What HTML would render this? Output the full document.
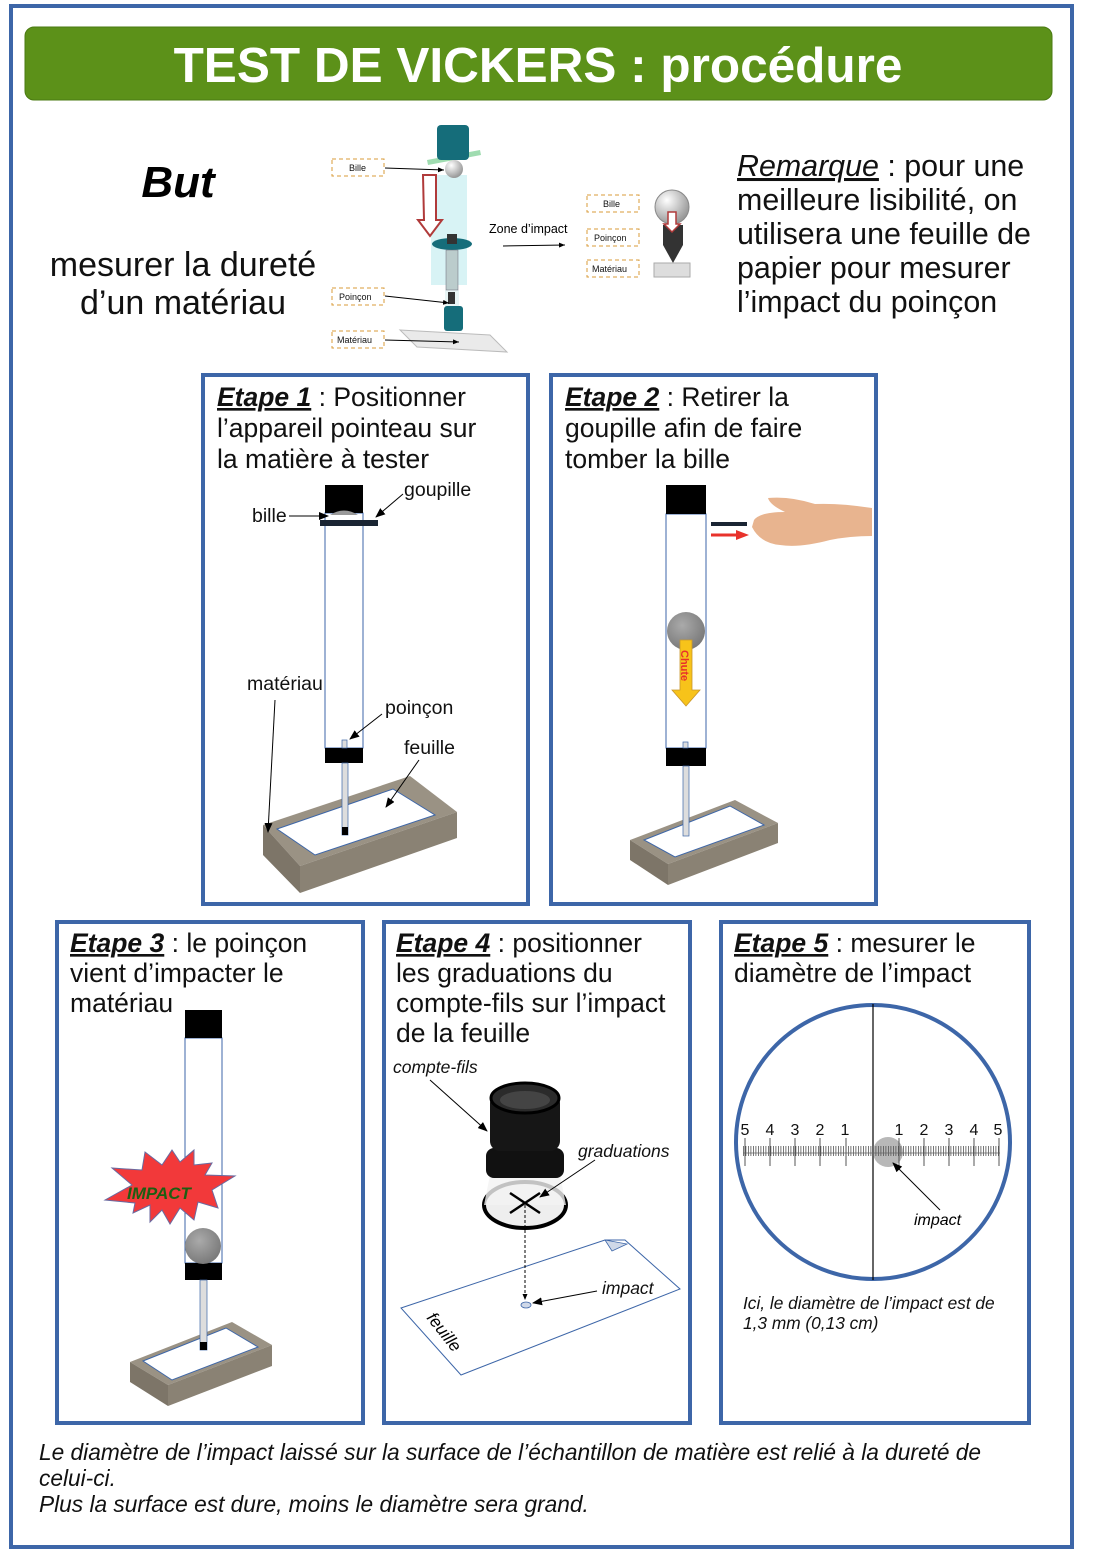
<!DOCTYPE html>
<html><head><meta charset="utf-8">
<style>
html,body{margin:0;padding:0;background:#fff;}
svg{display:block;font-family:"Liberation Sans",sans-serif;}
</style></head>
<body>
<svg width="1096" height="1560" viewBox="0 0 1096 1560" xmlns="http://www.w3.org/2000/svg">
<defs>
<marker id="ah" markerWidth="10" markerHeight="8" refX="9" refY="4" orient="auto" markerUnits="userSpaceOnUse"><path d="M0,0 L10,4 L0,8 z" fill="#000"/></marker>
<marker id="ahs" markerWidth="6" markerHeight="5" refX="6" refY="2.5" orient="auto" markerUnits="userSpaceOnUse"><path d="M0,0 L6,2.5 L0,5 z" fill="#000"/></marker>
<pattern id="tk" width="2.5" height="20" patternUnits="userSpaceOnUse" x="743"><rect x="0" y="6" width="0.8" height="10" fill="#555"/></pattern>
<radialGradient id="bg" cx="0.4" cy="0.35" r="0.7"><stop offset="0" stop-color="#aaa"/><stop offset="1" stop-color="#777"/></radialGradient>
<radialGradient id="wb" cx="0.35" cy="0.3" r="0.7"><stop offset="0" stop-color="#fff"/><stop offset="1" stop-color="#999"/></radialGradient>
</defs>

<rect x="11" y="6" width="1061" height="1541" fill="none" stroke="#3d66a8" stroke-width="4"/>
<rect x="25" y="27" width="1027" height="73" rx="9" fill="#5c9119" stroke="#4a7a12" stroke-width="1"/>
<text x="538" y="82" text-anchor="middle" font-size="49.5" font-weight="bold" fill="#fff">TEST DE VICKERS : procédure</text>

<text x="178" y="197" text-anchor="middle" font-size="44" font-weight="bold" font-style="italic">But</text>
<text x="183" y="276" text-anchor="middle" font-size="34" fill="#111">mesurer la dureté</text>
<text x="183" y="314" text-anchor="middle" font-size="34" fill="#111">d’un matériau</text>

<g font-size="30.4" fill="#111">
<text x="737" y="176"><tspan font-style="italic" text-decoration="underline">Remarque</tspan> : pour une</text>
<text x="737" y="210">meilleure lisibilité, on</text>
<text x="737" y="244">utilisera une feuille de</text>
<text x="737" y="278">papier pour mesurer</text>
<text x="737" y="312">l’impact du poinçon</text>
</g>

<g>
<rect x="431" y="175" width="36" height="110" fill="#d8f3f5"/>
<rect x="445" y="290" width="14" height="28" fill="#e8f5f5"/>
<path d="M427,160 L480,150 L481,155 L428,165z" fill="#9fdcb0"/>
<rect x="437" y="125" width="32" height="35" rx="4" fill="#156d7a"/>
<circle cx="454" cy="169" r="9" fill="url(#wb)"/>
<path d="M423,175 h13 v45 h6 l-12,16 l-12,-16 h6z" fill="#fff" stroke="#b03a3a" stroke-width="2"/>
<ellipse cx="452" cy="244" rx="20" ry="6" fill="#156d7a"/>
<rect x="447" y="234" width="10" height="10" fill="#333"/>
<rect x="446" y="250" width="12" height="40" fill="#bcc" stroke="#667" stroke-width="0.5"/>
<rect x="448" y="292" width="7" height="12" fill="#333"/>
<rect x="444" y="306" width="19" height="25" rx="3" fill="#156d7a"/>
<path d="M400,330 L490,335 L507,352 L417,347z" fill="#eaeaea" stroke="#bbb"/>
<g font-size="9" fill="#111">
<rect x="332" y="159" width="52" height="17" fill="none" stroke="#d89b3a" stroke-dasharray="4,3"/><text x="349" y="171">Bille</text>
<rect x="332" y="288" width="52" height="17" fill="none" stroke="#d89b3a" stroke-dasharray="4,3"/><text x="339" y="300">Poinçon</text>
<rect x="332" y="331" width="52" height="17" fill="none" stroke="#d89b3a" stroke-dasharray="4,3"/><text x="337" y="343">Matériau</text>
<rect x="587" y="195" width="52" height="17" fill="none" stroke="#d89b3a" stroke-dasharray="4,3"/><text x="603" y="207">Bille</text>
<rect x="587" y="229" width="52" height="17" fill="none" stroke="#d89b3a" stroke-dasharray="4,3"/><text x="594" y="241">Poinçon</text>
<rect x="587" y="260" width="52" height="17" fill="none" stroke="#d89b3a" stroke-dasharray="4,3"/><text x="592" y="272">Matériau</text>
</g>
<line x1="385" y1="168" x2="444" y2="170" stroke="#000" marker-end="url(#ahs)"/>
<line x1="385" y1="296" x2="449" y2="303" stroke="#000" marker-end="url(#ahs)"/>
<line x1="385" y1="340" x2="459" y2="342" stroke="#000" marker-end="url(#ahs)"/>
<text x="489" y="233" font-size="12.5">Zone d’impact</text>
<line x1="503" y1="246" x2="565" y2="245" stroke="#000" marker-end="url(#ahs)"/>
<circle cx="672" cy="207" r="17" fill="url(#wb)" stroke="#888"/>
<path d="M663,225 h20 v20 l-10,18 l-10,-18z" fill="#333"/>
<path d="M668,212 h8 v12 h4 l-8,8 l-8,-8 h4z" fill="#fff" stroke="#b03a3a" stroke-width="1.5"/>
<rect x="654" y="263" width="36" height="14" fill="#ddd" stroke="#aaa"/>
</g>

<g fill="none" stroke="#3d66a8" stroke-width="4">
<rect x="203" y="375" width="325" height="529"/>
<rect x="551" y="375" width="325" height="529"/>
<rect x="57" y="922" width="306" height="501"/>
<rect x="384" y="922" width="306" height="501"/>
<rect x="721" y="922" width="308" height="501"/>
</g>

<g font-size="26.5" fill="#111">
<text x="217" y="406"><tspan font-weight="bold" font-style="italic" text-decoration="underline">Etape 1</tspan> : Positionner</text>
<text x="217" y="437">l’appareil pointeau sur</text>
<text x="217" y="468">la matière à tester</text>
<text x="565" y="406"><tspan font-weight="bold" font-style="italic" text-decoration="underline">Etape 2</tspan> : Retirer la</text>
<text x="565" y="437">goupille afin de faire</text>
<text x="565" y="468">tomber la bille</text>
<text x="70" y="952"><tspan font-weight="bold" font-style="italic" text-decoration="underline">Etape 3</tspan> : le poinçon</text>
<text x="70" y="982">vient d’impacter le</text>
<text x="70" y="1012">matériau</text>
<text x="396" y="952"><tspan font-weight="bold" font-style="italic" text-decoration="underline">Etape 4</tspan> : positionner</text>
<text x="396" y="982">les graduations du</text>
<text x="396" y="1012">compte-fils sur l’impact</text>
<text x="396" y="1042">de la feuille</text>
<text x="734" y="952"><tspan font-weight="bold" font-style="italic" text-decoration="underline">Etape 5</tspan> : mesurer le</text>
<text x="734" y="982">diamètre de l’impact</text>
</g>

<g>
<path d="M263,825 L410,776 L457,812 L300,866z" fill="#9a9284"/>
<path d="M263,825 L300,866 L300,893 L263,855z" fill="#7d7568"/>
<path d="M300,866 L457,812 L457,838 L300,893z" fill="#8a8274"/>
<path d="M277,829 L393,789 L435,815 L315,855z" fill="#fff" stroke="#3d66a8" stroke-width="1"/>
<rect x="325" y="513" width="38" height="235" fill="#fff" stroke="#3d66a8" stroke-width="1"/>
<rect x="325" y="485" width="38" height="28" fill="#000"/>
<path d="M330,515 Q344,506 358,515z" fill="#999"/>
<rect x="320" y="520" width="58" height="6" fill="#1a2533"/>
<rect x="325" y="748" width="38" height="15" fill="#000"/>
<rect x="342" y="740" width="5" height="8" fill="#ddd" stroke="#3d66a8" stroke-width="0.7"/>
<rect x="342" y="763" width="6" height="72" fill="#ddd" stroke="#3d66a8" stroke-width="0.7"/>
<rect x="342" y="827" width="6" height="8" fill="#000"/>
<g font-size="19.5" fill="#111">
<text x="252" y="522">bille</text>
<text x="404" y="496">goupille</text>
<text x="247" y="690">matériau</text>
<text x="385" y="714">poinçon</text>
<text x="404" y="754">feuille</text>
</g>
<line x1="289" y1="516" x2="328" y2="516" stroke="#000" marker-end="url(#ah)"/>
<line x1="403" y1="494" x2="376" y2="517" stroke="#000" marker-end="url(#ah)"/>
<line x1="275" y1="700" x2="268" y2="832" stroke="#000" marker-end="url(#ah)"/>
<line x1="382" y1="714" x2="350" y2="739" stroke="#000" marker-end="url(#ah)"/>
<line x1="419" y1="760" x2="386" y2="807" stroke="#000" marker-end="url(#ah)"/>
</g>

<g>
<path d="M630,840 L735,800 L778,823 L668,864z" fill="#9a9284"/>
<path d="M630,840 L668,864 L668,885 L630,860z" fill="#7d7568"/>
<path d="M668,864 L778,823 L778,843 L668,885z" fill="#8a8274"/>
<path d="M644,840 L730,806 L764,825 L675,857z" fill="#fff" stroke="#3d66a8" stroke-width="1"/>
<rect x="666" y="514" width="40" height="234" fill="#fff" stroke="#3d66a8" stroke-width="1"/>
<rect x="666" y="485" width="40" height="29" fill="#000"/>
<rect x="666" y="748" width="40" height="18" fill="#000"/>
<rect x="683" y="742" width="5" height="6" fill="#ddd" stroke="#3d66a8" stroke-width="0.7"/>
<rect x="683" y="766" width="6" height="70" fill="#ddd" stroke="#3d66a8" stroke-width="0.7"/>
<circle cx="686" cy="631" r="19" fill="url(#bg)"/>
<path d="M680,640 h12 v50 h8 l-14,16 l-14,-16 h8z" fill="#f7c31a" stroke="#c9962a" stroke-width="0.8"/>
<text x="0" y="0" font-size="11" font-weight="bold" fill="#e8322b" transform="translate(681,650) rotate(90)">Chute</text>
<rect x="711" y="522" width="36" height="4" fill="#1a2533"/>
<path d="M711,535 h28" stroke="#e8322b" stroke-width="3"/>
<path d="M736,530 L749,535 L736,540z" fill="#e8322b"/>
<path d="M754,520 Q760,512 785,512 Q770,505 768,498 Q790,496 815,504 Q840,503 872,508 L872,536 Q850,536 830,540 Q800,548 780,545 Q760,543 752,527z" fill="#e8b48f"/>
</g>

<g>
<path d="M130,1362 L232,1322 L272,1345 L168,1385z" fill="#9a9284"/>
<path d="M130,1362 L168,1385 L168,1406 L130,1382z" fill="#7d7568"/>
<path d="M168,1385 L272,1345 L272,1366 L168,1406z" fill="#8a8274"/>
<path d="M143,1361 L226,1328 L258,1347 L172,1380z" fill="#fff" stroke="#3d66a8" stroke-width="1"/>
<rect x="185" y="1038" width="37" height="225" fill="#fff" stroke="#3d66a8" stroke-width="1"/>
<rect x="185" y="1010" width="37" height="28" fill="#000"/>
<rect x="185" y="1263" width="37" height="17" fill="#000"/>
<rect x="200" y="1280" width="7" height="70" fill="#ddd" stroke="#3d66a8" stroke-width="0.7"/>
<rect x="200" y="1342" width="7" height="8" fill="#000"/>
<circle cx="203" cy="1246" r="18" fill="url(#bg)"/>
<path d="M105,1200 L132,1185 L112,1168 L142,1170 L145,1152 L162,1165 L172,1150 L180,1162 L194,1150 L194,1165 L212,1163 L205,1175 L235,1176 L212,1190 L218,1208 L198,1202 L194,1220 L180,1208 L170,1224 L162,1210 L150,1222 L150,1205 L133,1213 L135,1203z" fill="#f2393a" stroke="#6a6aa0" stroke-width="1"/>
<text x="127" y="1199" font-size="17" font-weight="bold" font-style="italic" fill="#1d5e12">IMPACT</text>
</g>

<g>
<path d="M401,1308 L605,1240 L625,1240 L680,1289 L461,1375z" fill="#fff" stroke="#3d66a8" stroke-width="1"/>
<path d="M605,1240 L612,1251 L627,1244z" fill="#cfd8e8" stroke="#3d66a8" stroke-width="0.8"/>
<text x="0" y="0" font-size="17" font-style="italic" transform="translate(426,1318) rotate(52)">feuille</text>
<ellipse cx="526" cy="1305" rx="5" ry="3" fill="#cfd8e8" stroke="#3d66a8" stroke-width="0.8"/>
<ellipse cx="525" cy="1205" rx="41" ry="23" fill="#eee" stroke="#000" stroke-width="4"/>
<path d="M490,1175 L560,1175 L566,1205 L484,1205z" fill="#f2f2f2" opacity="0.8"/>
<rect x="486" y="1148" width="78" height="30" rx="8" fill="#111"/>
<rect x="490" y="1093" width="70" height="58" rx="10" fill="#161616"/>
<ellipse cx="525" cy="1098" rx="34" ry="15" fill="#2b2b2b" stroke="#000" stroke-width="3"/>
<ellipse cx="525" cy="1100" rx="25" ry="9" fill="#444"/>
<line x1="510" y1="1193" x2="540" y2="1213" stroke="#000" stroke-width="2.5"/>
<line x1="540" y1="1193" x2="510" y2="1213" stroke="#000" stroke-width="2.5"/>
<line x1="525" y1="1205" x2="525" y2="1300" stroke="#000" stroke-dasharray="3,2" marker-end="url(#ahs)"/>
<g font-size="17.5" font-style="italic" fill="#111">
<text x="393" y="1073">compte-fils</text>
<text x="578" y="1157">graduations</text>
<text x="602" y="1294">impact</text>
</g>
<line x1="430" y1="1080" x2="487" y2="1131" stroke="#000" marker-end="url(#ah)"/>
<line x1="595" y1="1160" x2="540" y2="1197" stroke="#000" marker-end="url(#ah)"/>
<line x1="597" y1="1291" x2="533" y2="1303" stroke="#000" marker-end="url(#ah)"/>
</g>

<g>
<circle cx="873" cy="1142" r="137" fill="#fff" stroke="#3d66a8" stroke-width="4"/>
<line x1="873" y1="1004" x2="873" y2="1280" stroke="#000" stroke-width="1.2"/>
<circle cx="888" cy="1152" r="15" fill="#b8b8b8"/>
<rect x="743" y="1146" width="257" height="14" fill="url(#tk)"/>
<line x1="743" y1="1153" x2="1000" y2="1153" stroke="#666" stroke-width="0.8"/>
<g stroke="#555" stroke-width="1">
<line x1="745" y1="1138" x2="745" y2="1166"/><line x1="770" y1="1138" x2="770" y2="1166"/><line x1="795" y1="1138" x2="795" y2="1166"/><line x1="820" y1="1138" x2="820" y2="1166"/><line x1="846" y1="1138" x2="846" y2="1166"/>
<line x1="899" y1="1138" x2="899" y2="1166"/><line x1="924" y1="1138" x2="924" y2="1166"/><line x1="949" y1="1138" x2="949" y2="1166"/><line x1="974" y1="1138" x2="974" y2="1166"/><line x1="999" y1="1138" x2="999" y2="1166"/>
</g>
<g font-size="16" fill="#111" text-anchor="middle">
<text x="745" y="1135">5</text><text x="770" y="1135">4</text><text x="795" y="1135">3</text><text x="820" y="1135">2</text><text x="845" y="1135">1</text>
<text x="899" y="1135">1</text><text x="924" y="1135">2</text><text x="949" y="1135">3</text><text x="974" y="1135">4</text><text x="998" y="1135">5</text>
</g>
<line x1="940" y1="1210" x2="893" y2="1163" stroke="#000" marker-end="url(#ah)"/>
<text x="914" y="1225" font-size="16" font-style="italic">impact</text>
<text x="743" y="1309" font-size="17.3" font-style="italic" fill="#111">Ici, le diamètre de l’impact est de</text>
<text x="743" y="1329" font-size="17.3" font-style="italic" fill="#111">1,3 mm (0,13 cm)</text>
</g>

<g font-size="22.7" font-style="italic" fill="#111">
<text x="39" y="1460">Le diamètre de l’impact laissé sur la surface de l’échantillon de matière est relié à la dureté de</text>
<text x="39" y="1486">celui-ci.</text>
<text x="39" y="1512">Plus la surface est dure, moins le diamètre sera grand.</text>
</g>
</svg>
</body></html>
